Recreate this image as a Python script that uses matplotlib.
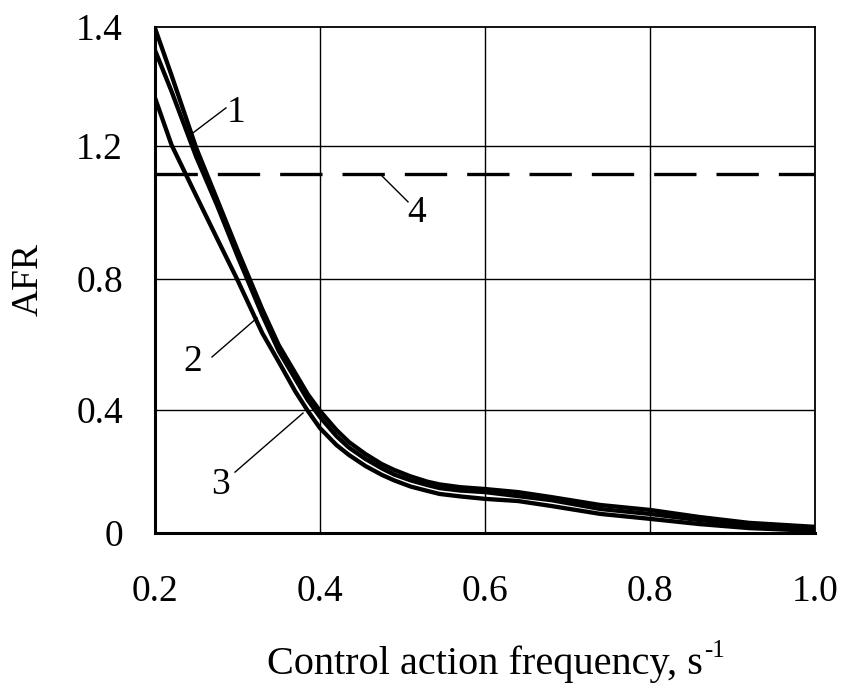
import numpy as np
import matplotlib
matplotlib.use("Agg")
import matplotlib.pyplot as plt

# ---------------- data ----------------
freq = [0.200, 0.220, 0.250, 0.275, 0.300, 0.330, 0.350, 0.370, 0.385, 0.400, 0.420,
        0.435, 0.455, 0.475, 0.490, 0.510, 0.530, 0.545, 0.570, 0.600, 0.640, 0.680,
        0.740, 0.800, 0.860, 0.920, 1.000]
afr_1 = [1.398, 1.319, 1.194, 1.041, 0.887, 0.708, 0.598, 0.513, 0.449, 0.397, 0.335,
         0.296, 0.257, 0.224, 0.205, 0.184, 0.167, 0.158, 0.149, 0.143, 0.133, 0.117,
         0.091, 0.075, 0.052, 0.033, 0.020]
afr_2 = [1.361, 1.292, 1.167, 1.023, 0.869, 0.690, 0.580, 0.495, 0.431, 0.377, 0.315,
         0.278, 0.241, 0.210, 0.190, 0.171, 0.156, 0.146, 0.138, 0.133, 0.120, 0.107,
         0.078, 0.062, 0.042, 0.026, 0.013]
afr_3 = [1.281, 1.202, 1.050, 0.923, 0.797, 0.635, 0.547, 0.457, 0.398, 0.341, 0.286,
         0.254, 0.218, 0.189, 0.171, 0.151, 0.137, 0.127, 0.119, 0.111, 0.104, 0.088,
         0.062, 0.046, 0.029, 0.016, 0.007]
afr_4 = 1.115  # dashed reference level

x_ticks = [0.2, 0.4, 0.6, 0.8, 1.0]
x_tick_labels = ["0.2", "0.4", "0.6", "0.8", "1.0"]
y_ticks = [0.0, 0.4, 0.8, 1.2, 1.4]
y_tick_labels = ["0", "0.4", "0.8", "1.2", "1.4"]
curve_labels = ["1", "2", "3", "4"]

# the original axis is drawn with uneven spacing of its labelled values
_scale_vals = np.array([0.0, 0.4, 0.8, 1.2, 1.4])
_scale_pos = np.array([0.0, 123.0, 254.0, 387.0, 506.0])


def _pw(x, xp, fp):
    x = np.asarray(x, dtype=float)
    y = np.interp(x, xp, fp)
    lo = x < xp[0]
    hi = x > xp[-1]
    y = np.where(lo, fp[0] + (x - xp[0]) * (fp[1] - fp[0]) / (xp[1] - xp[0]), y)
    y = np.where(hi, fp[-1] + (x - xp[-1]) * (fp[-1] - fp[-2]) / (xp[-1] - xp[-2]), y)
    return y


def fwd(v):
    return _pw(v, _scale_vals, _scale_pos)


def inv(p):
    return _pw(p, _scale_pos, _scale_vals)


FONT = "Liberation Serif"
FS = 27

fig = plt.figure(figsize=(8.41, 6.86), dpi=100)
ax = fig.add_axes([155 / 841, 1 - 533 / 686, 660 / 841, 506 / 686])
ax.set_yscale("function", functions=(fwd, inv))
ax.set_xlim(0.2, 1.0)
ax.set_ylim(0.0, 1.4)

# grid
for xv in x_ticks[1:-1]:
    ax.axvline(xv, color="black", lw=1.0, zorder=1)
for yv in y_ticks[1:-1]:
    ax.axhline(yv, color="black", lw=1.0, zorder=1)

lw = 3.1
for series in (afr_1, afr_2, afr_3):
    ax.plot(freq, series, color="black", lw=lw, zorder=3,
            solid_joinstyle="round", solid_capstyle="butt")
ax.axhline(afr_4, color="black", lw=2.4, linestyle=(0, (12.7, 6.0)), zorder=3)

# leaders + curve numbers
leaders = [
    ((0.246, 1.222), (0.286, 1.264), (0.298, 1.256)),
    ((0.3236, 0.681), (0.2691, 0.562), (0.246, 0.547)),
    ((0.3794, 0.390), (0.297, 0.198), (0.2788, 0.156)),
    ((0.4727, 1.116), (0.5067, 1.032), (0.5176, 0.998)),
]
for lab, (p0, p1, pt) in zip(curve_labels, leaders):
    ax.plot([p0[0], p1[0]], [p0[1], p1[1]], color="black", lw=1.0, zorder=4)
    ax.text(pt[0], pt[1], lab, fontsize=FS, family=FONT, ha="center", va="center", zorder=5)

ax.set_xticks(x_ticks)
ax.set_xticklabels(x_tick_labels)
ax.set_yticks(y_ticks)
ax.set_yticklabels(y_tick_labels)
ax.yaxis.set_minor_locator(matplotlib.ticker.NullLocator())
ax.tick_params(axis="both", length=0, labelsize=FS)
ax.tick_params(axis="x", pad=30)
ax.tick_params(axis="y", pad=23)
for t in ax.get_xticklabels() + ax.get_yticklabels():
    t.set_family(FONT)

ax.spines["left"].set_linewidth(2.2)
ax.spines["bottom"].set_linewidth(2.2)
ax.spines["top"].set_linewidth(1.3)
ax.spines["right"].set_linewidth(1.3)

xl = ax.set_xlabel("Control action frequency, s", fontsize=29, family=FONT, labelpad=26)
ax.annotate("-1", xy=(1.0, 1.0), xycoords=xl, xytext=(1, 4), textcoords="offset points",
            fontsize=18, family=FONT, ha="left", va="top")
ax.set_ylabel("AFR", fontsize=FS, family=FONT, labelpad=22)

fig.savefig("out.png", dpi=100)
